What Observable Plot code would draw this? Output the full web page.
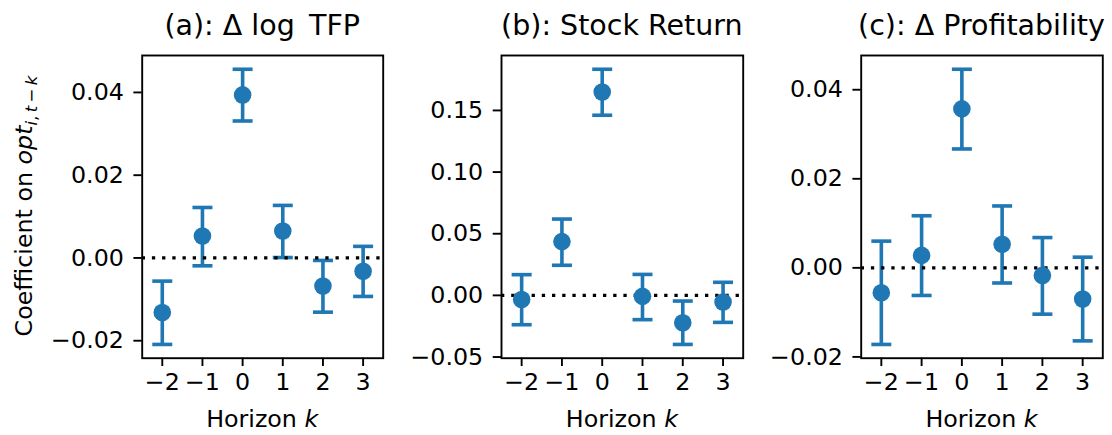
<!DOCTYPE html>
<html><head><meta charset="utf-8">
<script src="https://cdn.jsdelivr.net/npm/d3@7"></script>
<script src="https://cdn.jsdelivr.net/npm/@observablehq/plot@0.6"></script>
<style>
html,body{margin:0;padding:0;background:#fff;}
#fig{position:relative;width:1112px;height:435px;font-family:"DejaVu Sans",sans-serif;color:#000;overflow:hidden;background:#fff}
.panel{position:absolute;top:0}
.title{position:absolute;top:12px;font-size:28.5px;line-height:1;white-space:nowrap;transform:translateX(-50%)}
.xlabel{position:absolute;top:408px;font-size:23.75px;line-height:1;white-space:nowrap;transform:translateX(-50%)}
.ylabel{position:absolute;left:25px;top:206px;font-size:23.75px;line-height:1;white-space:nowrap;transform:translate(-50%,-50%) rotate(-90deg)}
.ylabel sub{font-size:70%;line-height:0;vertical-align:-0.3em}
</style>
</head><body>
<div id="fig"></div>
<script>
// ---- data ----
const horizons = [-2, -1, 0, 1, 2, 3];
const xTicks = [-2, -1, 0, 1, 2, 3];

const tfpCoef = [-0.0132, 0.0053, 0.0394, 0.0065, -0.0068, -0.0032];
const tfpLo   = [-0.0209, -0.0019, 0.0331, 0.0001, -0.0131, -0.0093];
const tfpHi   = [-0.0056, 0.0122, 0.0456, 0.0127, -0.0006, 0.0028];
const tfpTicks = [-0.02, 0.00, 0.02, 0.04];

const stockCoef = [-0.0033, 0.0436, 0.1650, -0.0008, -0.0222, -0.0054];
const stockLo   = [-0.0238, 0.0244, 0.1461, -0.0197, -0.0398, -0.0219];
const stockHi   = [0.0168, 0.0619, 0.1834, 0.0170, -0.0046, 0.0106];
const stockTicks = [-0.05, 0.00, 0.05, 0.10, 0.15];

const profCoef = [-0.0056, 0.0028, 0.0357, 0.0053, -0.0017, -0.0070];
const profLo   = [-0.0172, -0.0062, 0.0267, -0.0034, -0.0104, -0.0164];
const profHi   = [0.0060, 0.0117, 0.0446, 0.0139, 0.0068, 0.0024];
const profTicks = [-0.02, 0.00, 0.02, 0.04];

const titles = ["(a): Δ log\u2002TFP", "(b): Stock Return", "(c): Δ Profitability"];

// ---- layout / style ----
const blue = "#1f77b4";
const H = 435, mTop = 55, mBottom = 77.3;
const panels = [
  {left: 0,   width: 390, mLeft: 141.7, mRight: 7.3, coef: tfpCoef,   lo: tfpLo,   hi: tfpHi,   ticks: tfpTicks,   title: titles[0]},
  {left: 400, width: 350, mLeft: 101.0, mRight: 7.3, coef: stockCoef, lo: stockLo, hi: stockHi, ticks: stockTicks, title: titles[1]},
  {left: 760, width: 352, mLeft: 100.7, mRight: 9.7, coef: profCoef,  lo: profLo,  hi: profHi,  ticks: profTicks,  title: titles[2]}
];

const capSymbol = {draw(ctx) { ctx.moveTo(-10, 0); ctx.lineTo(10, 0); }};
const fig = document.getElementById("fig");

panels.forEach((p, i) => {
  const data = horizons.map((k, j) => ({k, coef: p.coef[j], lo: p.lo[j], hi: p.hi[j]}));
  const ymin = d3.min(p.lo), ymax = d3.max(p.hi), pad = (ymax - ymin) * 0.05;
  const chart = Plot.plot({
    width: p.width, height: H,
    marginLeft: p.mLeft, marginRight: p.mRight, marginTop: mTop, marginBottom: mBottom,
    style: {fontFamily: "DejaVu Sans, sans-serif", fontSize: "23.75px", color: "#000", background: "transparent", overflow: "visible", maxWidth: "none"},
    x: {domain: [-2.5, 3.5]},
    y: {domain: [ymin - pad, ymax + pad]},
    marks: [
      Plot.ruleX(data, {x: "k", y1: "lo", y2: "hi", stroke: blue, strokeWidth: 3.6}),
      Plot.dot(data, {x: "k", y: "lo", symbol: capSymbol, fill: "none", stroke: blue, strokeWidth: 3.6}),
      Plot.dot(data, {x: "k", y: "hi", symbol: capSymbol, fill: "none", stroke: blue, strokeWidth: 3.6}),
      Plot.ruleY([0], {stroke: "#000", strokeWidth: 3.3, strokeDasharray: "3.3,6.9"}),
      Plot.dot(data, {x: "k", y: "coef", r: 8.8, fill: blue, stroke: "none"}),
      Plot.frame({stroke: "#000", strokeWidth: 1.9}),
      Plot.axisX({ticks: xTicks, tickFormat: d3.format("d"), tickSize: 8.3, tickPadding: 7, strokeWidth: 1.9, fontSize: 23.75, label: null}),
      Plot.axisY({ticks: p.ticks, tickFormat: d3.format(".2f"), tickSize: 8.3, tickPadding: 10, strokeWidth: 1.9, fontSize: 23.75, label: null})
    ]
  });
  const wrap = document.createElement("div");
  wrap.className = "panel";
  wrap.style.left = p.left + "px";
  wrap.appendChild(chart);
  fig.appendChild(wrap);

  const cx = p.left + p.mLeft + (p.width - p.mLeft - p.mRight) / 2;
  const t = document.createElement("div");
  t.className = "title"; t.style.left = cx + "px"; t.textContent = p.title;
  fig.appendChild(t);
  const xl = document.createElement("div");
  xl.className = "xlabel"; xl.style.left = cx + "px";
  xl.innerHTML = "Horizon <i>k</i>";
  fig.appendChild(xl);
});

const yl = document.createElement("div");
yl.className = "ylabel";
yl.innerHTML = "Coefficient on <i>opt</i><sub><i>i</i>,\u2009<i>t</i>\u2009−\u2009<i>k</i></sub>";
fig.appendChild(yl);
</script>
</body></html>
